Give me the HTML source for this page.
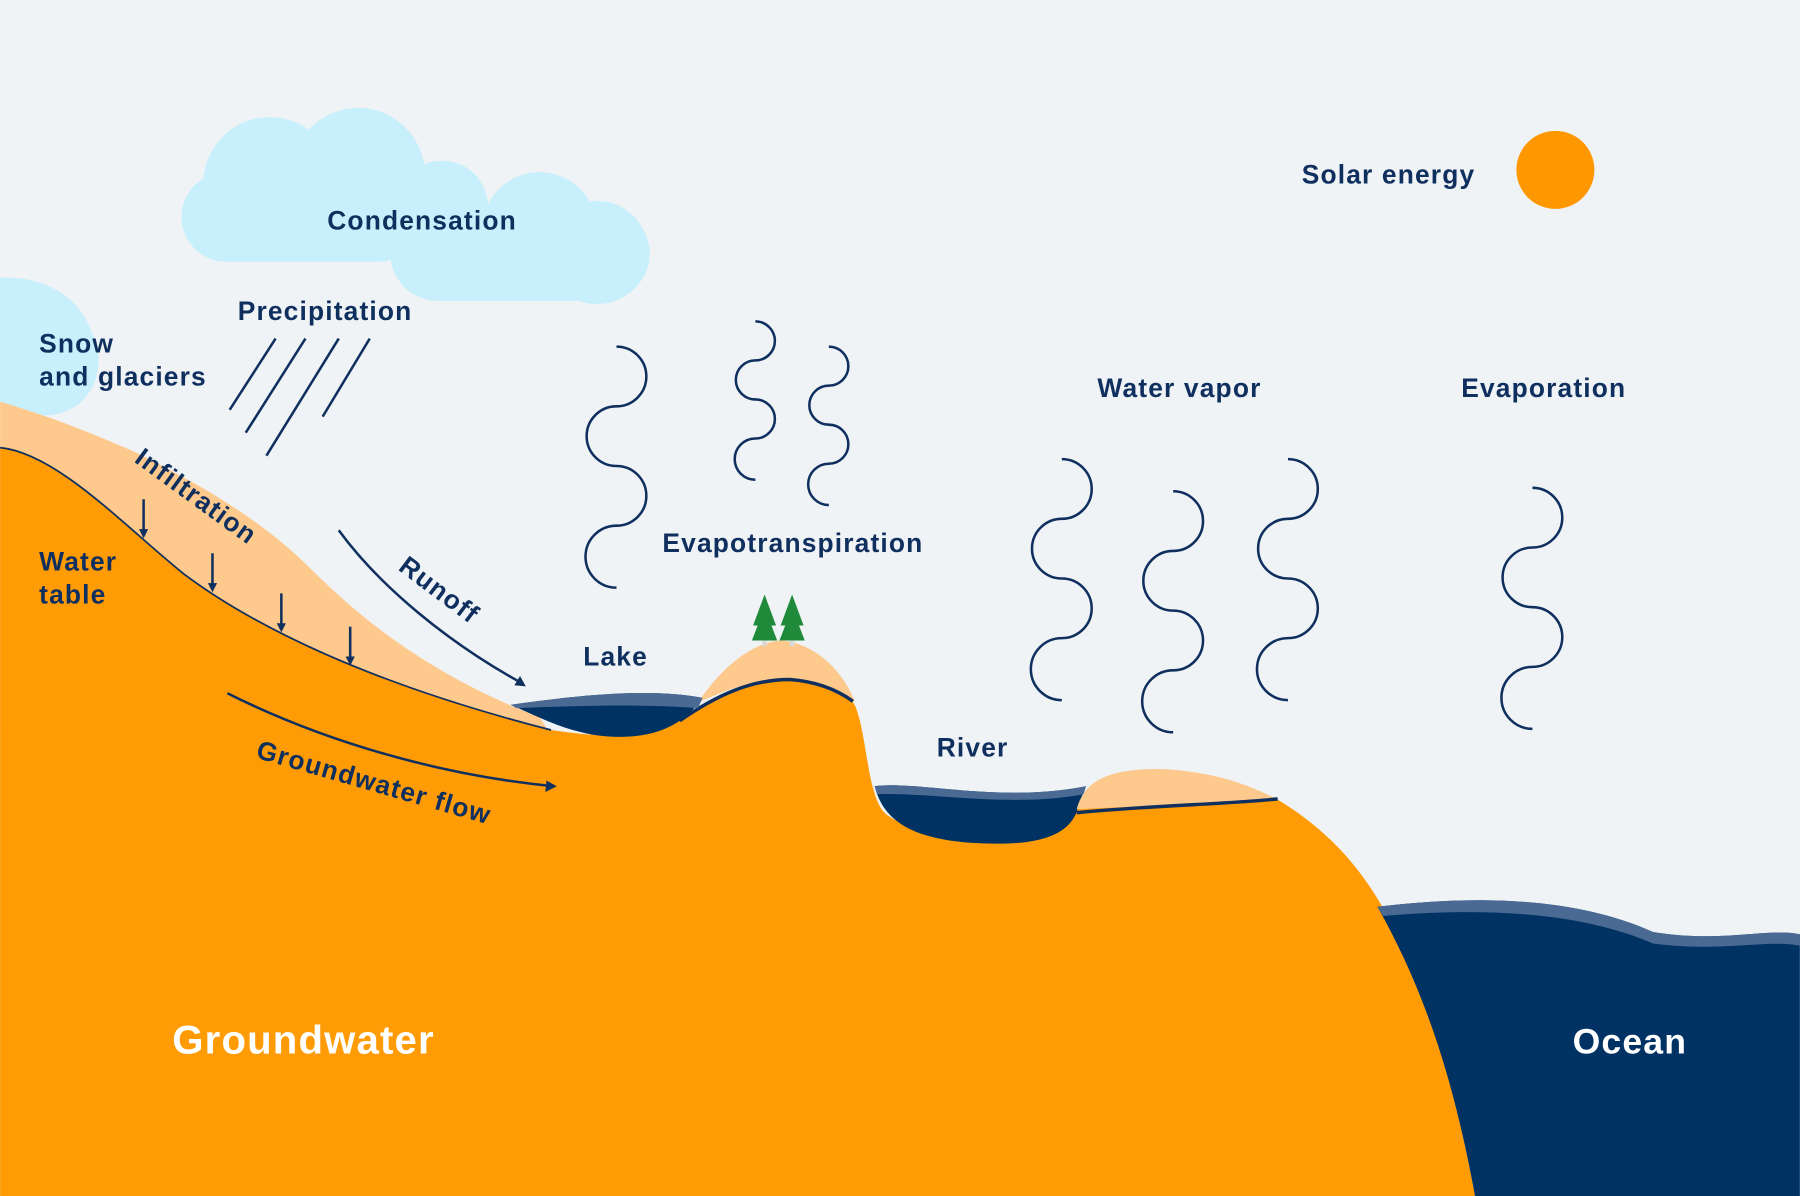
<!DOCTYPE html>
<html><head><meta charset="utf-8"><style>
html,body{margin:0;padding:0;background:#eff3f6}
svg{display:block}
text{font-family:"Liberation Sans",sans-serif;font-weight:bold;fill:#0f2f5e}
</style></head><body>
<svg width="1800" height="1196" viewBox="0 0 1568 1042" xmlns="http://www.w3.org/2000/svg">
<rect width="1568" height="1042" fill="#eff3f6"/>
<g fill="#c8effc">
<circle cx="235" cy="160" r="58"/><circle cx="312" cy="152" r="58"/><circle cx="385" cy="180" r="40"/>
<circle cx="470" cy="200" r="50"/><circle cx="520" cy="220" r="45"/>
<rect x="158" y="150" width="210" height="78" rx="39"/>
<rect x="340" y="180" width="226" height="82" rx="41"/>
</g>
<path d="M0,242 C40,240 70,260 80,290 C95,320 80,360 40,362 C20,362 5,355 0,352 Z" fill="#c8effc"/>
<path d="M0,350 C20,356 60,368 120,395 C180,425 230,455 270,495 C320,545 380,590 470,625 L480,640 L0,640 Z" fill="#fdc98c"/>
<path d="M0,390 C50,395 110,460 160,500 C220,545 320,595 480,636 C520,642 560,645 590,628 C620,610 650,592 685,592 C720,594 738,602 745,615 C755,640 755,685 768,705 C785,730 900,742 932,715 L942,700 C1000,698 1080,696 1112,696 C1160,725 1190,760 1215,810 C1250,890 1270,960 1285,1042 L0,1042 Z" fill="#ff9b05"/>
<path d="M0,390 C50,395 110,460 160,500 C220,545 320,595 480,636" fill="none" stroke="#0f2f5e" stroke-width="1.5"/>
<path d="M608,612 C630,580 655,560 680,558 C710,560 735,585 745,612 C730,602 712,594 685,592 C650,592 625,605 608,612 Z" fill="#fdc98c"/>
<path d="M592,628 C625,605 655,592 688,592 C715,594 732,603 743,611" fill="none" stroke="#0f2f5e" stroke-width="3"/>
<path d="M445,614 C490,608 560,598 612,608 C600,625 580,642 540,642 C505,642 480,630 445,614 Z" fill="#003263"/>
<path d="M445,614 C490,608 560,598 612,608 L608,617 C560,613 500,615 450,617 Z" fill="#4a6a94"/>
<path d="M762,685 C800,680 870,700 946,685 L940,700 C935,728 905,735 870,735 C800,735 770,718 762,685 Z" fill="#003263"/>
<path d="M762,685 C800,680 870,700 946,685 L944,692 C880,704 810,690 764,692 Z" fill="#4a6a94"/>
<path d="M938,705 C945,680 965,670 1010,670 C1060,672 1090,685 1112,696 C1080,700 1000,702 938,705 Z" fill="#fdc98c"/>
<path d="M938,708 C1000,702 1080,700 1113,696" fill="none" stroke="#0f2f5e" stroke-width="3"/>
<path d="M1200,790 C1300,778 1380,785 1440,812 C1500,822 1540,808 1568,814 L1568,1042 L1285,1042 C1268,950 1245,870 1200,790 Z" fill="#003263"/>
<path d="M1200,790 C1300,778 1380,785 1440,812 C1500,822 1540,808 1568,814 L1568,824 C1540,818 1500,830 1440,822 C1380,796 1300,790 1205,798 Z" fill="#4a6a94"/>
<circle cx="1355" cy="148" r="34" fill="#ff9800"/>
<g fill="#1f8a3a"><path d="M666,518 L656,545 L660,545 L655,558 L677,558 L672,545 L676,545 Z"/><path d="M690,518 L680,545 L684,545 L679,558 L701,558 L696,545 L700,545 Z"/></g>
<g fill="#d9d9d9"><rect x="664" y="558" width="4" height="5"/><rect x="688" y="558" width="4" height="5"/></g>
<g fill="none" stroke="#0f2f5e" stroke-width="2.2">
<path d="M537,302 a26,26 0 0 1 0,52 a26,26 0 0 0 0,52 a26,26 0 0 1 0,52 a27,27 0 0 0 0,54"/>
<path d="M658,280 a17,17 0 0 1 0,34 a17,17 0 0 0 0,34 a17,17 0 0 1 0,34 a18,18 0 0 0 0,36"/>
<path d="M722,302 a17,17 0 0 1 0,34 a17,17 0 0 0 0,34 a17,17 0 0 1 0,34 a18,18 0 0 0 0,36"/>
<path d="M925,400 a26,26 0 0 1 0,52 a26,26 0 0 0 0,52 a26,26 0 0 1 0,52 a27,27 0 0 0 0,54"/>
<path d="M1022,428 a26,26 0 0 1 0,52 a26,26 0 0 0 0,52 a26,26 0 0 1 0,52 a27,27 0 0 0 0,54"/>
<path d="M1122,400 a26,26 0 0 1 0,52 a26,26 0 0 0 0,52 a26,26 0 0 1 0,52 a27,27 0 0 0 0,54"/>
<path d="M1335,425 a26,26 0 0 1 0,52 a26,26 0 0 0 0,52 a26,26 0 0 1 0,52 a27,27 0 0 0 0,54"/>
<line x1="240" y1="295" x2="200" y2="357"/><line x1="266" y1="295" x2="214" y2="377"/>
<line x1="295" y1="295" x2="232" y2="397"/><line x1="322" y1="295" x2="281" y2="363"/>
<path d="M295,462 C330,510 390,560 456,596"/>
<path d="M198,604 C280,645 380,675 482,685"/>
<line x1="125" y1="435" x2="125" y2="466"/><line x1="185" y1="482" x2="185" y2="513"/>
<line x1="245" y1="517" x2="245" y2="548"/><line x1="305" y1="546" x2="305" y2="577"/>
</g>
<g fill="#0f2f5e">
<path d="M458,598 L448,597 L453,589 Z"/>
<path d="M485,685 L475,690 L476,680 Z"/>
<path d="M125,469 L121,461 L129,461 Z"/><path d="M185,516 L181,508 L189,508 Z"/>
<path d="M245,551 L241,543 L249,543 Z"/><path d="M305,580 L301,572 L309,572 Z"/>
</g>
<g font-size="23" letter-spacing="1">
<text x="285" y="200">Condensation</text>
<text x="1134" y="160">Solar energy</text>
<text x="207" y="279">Precipitation</text>
<text x="34" y="307">Snow</text>
<text x="34" y="336">and glaciers</text>
<text x="34" y="497">Water</text>
<text x="34" y="526">table</text>
<text x="956" y="346">Water vapor</text>
<text x="1273" y="346">Evaporation</text>
<text x="577" y="481">Evapotranspiration</text>
<text x="508" y="580">Lake</text>
<text x="816" y="659">River</text>
<text transform="translate(116,402) rotate(36)">Infiltration</text>
<text transform="translate(346,496) rotate(37)">Runoff</text>
<text transform="translate(222,660) rotate(16)">Groundwater flow</text>
</g>
<text x="150" y="918" font-size="35" letter-spacing="1" style="fill:#fff">Groundwater</text>
<text x="1370" y="918" font-size="31" letter-spacing="1" style="fill:#fff">Ocean</text>
</svg>
</body></html>
